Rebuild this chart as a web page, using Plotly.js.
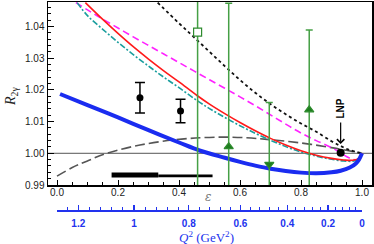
<!DOCTYPE html>
<html><head><meta charset="utf-8">
<script src="https://cdn.plot.ly/plotly-3.0.1.min.js"></script>
<style>html,body{margin:0;padding:0;background:#fff}#plot{width:374px;height:244px}</style>
</head><body><div id="plot"></div>
<script>
// ---- data ----
const blueX = [0.01,0.1,0.2,0.3,0.4,0.47,0.55,0.6,0.65,0.7,0.75,0.8,0.85,0.9,0.93,0.96,0.98,0.99,1.0];
const blueY = [1.0187,1.0152,1.0113,1.0073,1.0034,1.0008,0.9986,0.9973,0.9961,0.9951,0.9944,0.9939,0.9937,0.9940,0.9945,0.9955,0.9968,0.9980,1.0000];
const redX = [0.093,0.15,0.2,0.25,0.3,0.35,0.4,0.458,0.5,0.55,0.6,0.65,0.7,0.75,0.8,0.85,0.9,0.94,0.97,0.99,1.0];
const redY = [1.0475,1.0422,1.0378,1.0336,1.0297,1.0260,1.0225,1.0183,1.0155,1.0125,1.0097,1.0071,1.0047,1.0026,1.0008,0.9994,0.9984,0.9979,0.9978,0.9984,1.0000];
const tealX = [0.066,0.1,0.15,0.2,0.25,0.3,0.35,0.4,0.458,0.5,0.55,0.6,0.65,0.7,0.75,0.8,0.85,0.9,0.94,0.97,0.99,1.0];
const tealY = [1.0475,1.0434,1.0391,1.0350,1.0311,1.0275,1.0240,1.0207,1.0167,1.0141,1.0113,1.0087,1.0063,1.0041,1.0021,1.0004,0.9991,0.9981,0.9976,0.9975,0.9982,1.0000];
const magX = [0.062,0.1,0.15,0.2,0.25,0.3,0.35,0.4,0.45,0.5,0.55,0.6,0.65,0.7,0.75,0.8,0.85,0.9,0.93,0.95,0.97,0.985,1.0];
const magY = [1.0475,1.0452,1.0423,1.0395,1.0367,1.0340,1.0313,1.0286,1.0259,1.0232,1.0205,1.0178,1.0150,1.0121,1.0092,1.0064,1.0040,1.0018,1.0001,0.9989,0.9981,0.9980,1.0000];
const dotX = [0.33,0.4,0.447,0.5,0.55,0.6,0.65,0.7,0.75,0.8,0.85,0.9,0.93,0.96,1.0];
const dotY = [1.0475,1.0410,1.0368,1.0320,1.0275,1.0231,1.0191,1.0155,1.0123,1.0094,1.0068,1.0038,1.0023,1.0010,1.0000];
const grayX = [0.0,0.05,0.1,0.163,0.272,0.381,0.47,0.55,0.62,0.688,0.797,0.905,1.0];
const grayY = [0.9928,0.9955,0.9976,1.0000,1.0026,1.0042,1.0049,1.0051,1.0049,1.0044,1.0033,1.0017,1.0000];
const ptsX = [0.272,0.405];
const ptsY = [1.0175,1.0133];
const ptsErr = [0.0048,0.0037];
const lnpX = [0.93];
const lnpY = [1.0002];
const grnX = [0.461,0.563,0.696,0.827];
const grnY = [1.0382,1.0021,0.9965,1.0137];
const grnErr = [0.06,0.0452,0.0195,0.0252];
const grnSym = ['square','triangle-up','triangle-down','triangle-up'];
const grnFill = ['white','#1e7e1e','#1e7e1e','#1e7e1e'];
const barThickX = [0.179,0.332];
const barThickY = [0.99312,0.99312];
const barThinX = [0.332,0.51];
const barThinY = [0.99287,0.99287];
const q2Major = [0,0.2,0.4,0.6,0.8,1.0,1.2];
const q2Labels = ['0','0.2','0.4','0.6','0.8','1','1.2'];
const q2Minor = [];
for (let i=1;i<=31;i++){ if(i%5!==0) q2Minor.push(+(i*0.04).toFixed(2)); }

// epsilon as a function of Q^2 for a 1 GeV beam on a proton
function eps(Q2){
  const E=1.0, M=0.938;
  const Ep = E - Q2/(2*M);
  const s2 = Q2/(4*E*Ep);
  const t2 = s2/(1-s2);
  const tau = Q2/(4*M*M);
  return 1/(1+2*(1+tau)*t2);
}

const tickFont = {family:'Liberation Sans, Arial, sans-serif', size:10, color:'#222'};
const blue = '#2233ee';

const traces = [
  {x:grayX,y:grayY,mode:'lines',line:{color:'#555',width:1.6,dash:'10px,4px',shape:'spline'}},
  {x:dotX,y:dotY,mode:'lines',line:{color:'#111',width:1.8,dash:'dot',shape:'spline'}},
  {x:magX,y:magY,mode:'lines',line:{color:'#ff22ff',width:1.6,dash:'7px,4px',shape:'spline'}},
  {x:tealX,y:tealY,mode:'lines',line:{color:'#1a9e9e',width:1.6,dash:'6px,2px,2px,2px',shape:'spline'}},
  {x:redX,y:redY,mode:'lines',line:{color:'#ff1a1a',width:1.6,shape:'spline'}},
  {x:blueX,y:blueY,mode:'lines',line:{color:'#1a2cf0',width:4,shape:'spline'}},
  {x:barThinX,y:barThinY,mode:'lines',line:{color:'#000',width:2.6}},
  {x:barThickX,y:barThickY,mode:'lines',line:{color:'#000',width:5}},
  {x:ptsX,y:ptsY,mode:'markers',marker:{color:'#000',size:7},
   error_y:{type:'data',array:ptsErr,color:'#000',thickness:1.5,width:5}},
  {x:grnX,y:grnY,mode:'markers',
   marker:{symbol:grnSym,color:grnFill,size:8,line:{color:'#2e8b2e',width:1.2}},
   error_y:{type:'data',array:grnErr,color:'#45a045',thickness:1.5,width:3.5}},
  {x:lnpX,y:lnpY,mode:'markers',marker:{color:'#000',size:8}},
  {x:[],y:[],xaxis:'x2',yaxis:'y2',mode:'markers',hoverinfo:'skip'}
];

const layout = {
  width:374, height:244,
  margin:{l:48,r:2,t:2,b:10},
  paper_bgcolor:'#fff', plot_bgcolor:'#fff',
  showlegend:false,
  xaxis:{range:[-0.0295,1.0328],domain:[0,1],anchor:'y',
    showline:true,mirror:true,linecolor:'#000',linewidth:1.5,
    ticks:'inside',ticklen:5,tickwidth:1,tickcolor:'#000',
    tick0:0,dtick:0.2,tickformat:'.1f',showgrid:false,zeroline:false,
    ticklabelstandoff:-3,
    minor:{dtick:0.05,tick0:0,ticks:'inside',ticklen:3,tickcolor:'#000',showgrid:false},
    tickfont:tickFont},
  yaxis:{range:[0.99,1.0477],domain:[0.2112,1],anchor:'x',
    showline:true,mirror:true,linecolor:'#000',linewidth:1.5,
    ticks:'inside',ticklen:6,tickwidth:1,tickcolor:'#000',
    tick0:1,dtick:0.01,tickformat:'.2f',showgrid:false,zeroline:false,
    minor:{dtick:0.002,tick0:1,ticks:'inside',ticklen:3,tickcolor:'#000',showgrid:false},
    tickfont:tickFont},
  xaxis2:{range:[0,1],domain:[0.02778,0.96914],anchor:'y2',
    showline:true,linecolor:blue,linewidth:1.5,
    tickmode:'array',tickvals:q2Major.map(eps),ticktext:q2Labels,
    ticks:'inside',ticklen:5,tickwidth:1.2,tickcolor:blue,
    showgrid:false,zeroline:false,ticklabelstandoff:3,
    minor:{tickmode:'array',tickvals:q2Minor.map(eps),ticks:'inside',ticklen:3,tickwidth:1,tickcolor:blue,showgrid:false},
    tickfont:{family:'Liberation Sans, Arial, sans-serif',size:10,color:blue,weight:'bold'}},
  yaxis2:{domain:[0.1034,0.12],anchor:'x2',visible:false,range:[0,1]},
  shapes:[
    {type:'line',xref:'paper',yref:'y',x0:0,x1:1,y0:1.0,y1:1.0,line:{color:'#555',width:1},layer:'below'}
  ],
  annotations:[
    {xref:'paper',yref:'paper',x:-0.114,y:0.5905,xanchor:'center',yanchor:'middle',text:'<i>R</i><sub>2γ</sub>',showarrow:false,textangle:-90,
     font:{family:'Liberation Serif, Times New Roman, serif',size:14,color:'#222'}},
    {xref:'paper',yref:'paper',x:0.495*0.94136+0.02778,y:0.1595,xanchor:'center',yanchor:'middle',text:'<i>ε</i>',showarrow:false,
     font:{family:'DejaVu Serif, serif',size:12,color:'#777'}},
    {xref:'paper',yref:'paper',x:0.4907,y:-0.012,xanchor:'center',yanchor:'middle',text:'<i>Q</i><sup>2</sup> (GeV<sup>2</sup>)',showarrow:false,
     font:{family:'Liberation Serif, Times New Roman, serif',size:13,color:blue}},
    {xref:'x',yref:'y',x:0.93,y:1.0140,xanchor:'center',yanchor:'middle',text:'<b>LNP</b>',showarrow:false,textangle:-90,
     font:{family:'Liberation Sans, Arial, sans-serif',size:10,color:'#000'}},
    {xref:'x',yref:'y',x:0.93,y:1.0029,text:'',showarrow:true,ax:0,ay:-23,
     arrowhead:4,arrowsize:1.2,arrowwidth:1.2,arrowcolor:'#000'}
  ]
};

Plotly.newPlot('plot',traces,layout,{staticPlot:true,displayModeBar:false});
</script></body></html>
